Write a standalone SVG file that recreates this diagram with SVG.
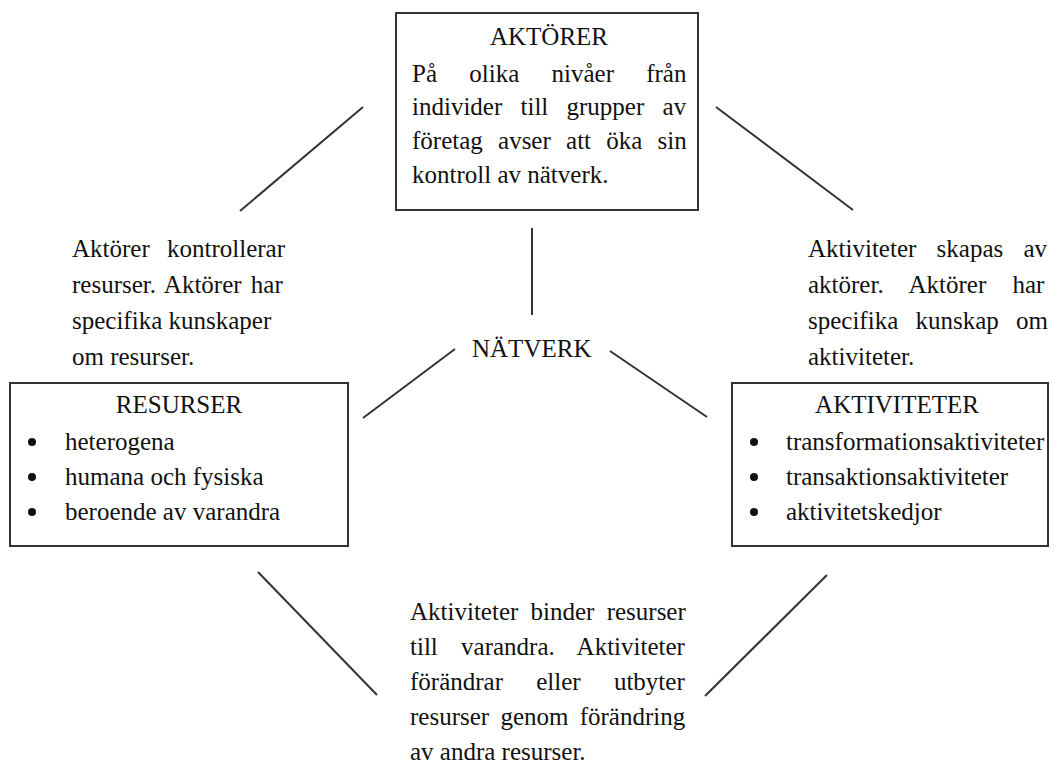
<svg xmlns="http://www.w3.org/2000/svg" width="1058" height="765" viewBox="0 0 1058 765">
<style>
text{font-family:"Liberation Serif","Times New Roman",serif;font-size:25px;fill:#111}
.box{fill:#fff;stroke:#333;stroke-width:2}
.ln{stroke:#333;stroke-width:2;fill:none}
.c{text-anchor:middle}
</style>
<rect width="1058" height="765" fill="#fff"/>
<g id="connectors">
<line class="ln" x1="363" y1="107" x2="240" y2="211"/>
<line class="ln" x1="716" y1="107" x2="853" y2="210"/>
<line class="ln" x1="532" y1="228" x2="532" y2="315"/>
<line class="ln" x1="455" y1="349" x2="363" y2="418"/>
<line class="ln" x1="610" y1="351" x2="707" y2="417"/>
<line class="ln" x1="258" y1="572" x2="377" y2="695"/>
<line class="ln" x1="827" y1="575" x2="705" y2="696"/>
</g>
<g id="aktorer">
<rect class="box" x="396" y="13" width="302" height="197"/>
<text class="c" x="549" y="45">AKTÖRER</text>
<text x="412" y="82" style="word-spacing:26px">På olika nivåer från</text>
<text x="412" y="115" style="word-spacing:12px">individer till grupper av</text>
<text x="412" y="149" style="word-spacing:9px">företag avser att öka sin</text>
<text x="412" y="183">kontroll av nätverk.</text>
</g>
<g id="natverk">
<text x="472" y="357">NÄTVERK</text>
</g>
<g id="label-left">
<text x="72" y="257" style="word-spacing:11px">Aktörer kontrollerar</text>
<text x="72" y="293" style="word-spacing:3px">resurser. Aktörer har</text>
<text x="72" y="329">specifika kunskaper</text>
<text x="72" y="365">om resurser.</text>
</g>
<g id="label-right">
<text x="808" y="257" style="word-spacing:14px">Aktiviteter skapas av</text>
<text x="808" y="293" style="word-spacing:20px">aktörer. Aktörer har</text>
<text x="808" y="329" style="word-spacing:11px">specifika kunskap om</text>
<text x="808" y="365">aktiviteter.</text>
</g>
<g id="resurser">
<rect class="box" x="10" y="383" width="338" height="163"/>
<text class="c" x="179" y="413">RESURSER</text>
<circle cx="32" cy="442" r="4" fill="#111"/>
<circle cx="32" cy="477" r="4" fill="#111"/>
<circle cx="32" cy="512" r="4" fill="#111"/>
<text x="65" y="450">heterogena</text>
<text x="65" y="485">humana och fysiska</text>
<text x="65" y="520">beroende av varandra</text>
</g>
<g id="aktiviteter">
<rect class="box" x="732" y="383" width="316" height="163"/>
<text class="c" x="897" y="413">AKTIVITETER</text>
<circle cx="754" cy="442" r="4" fill="#111"/>
<circle cx="754" cy="477" r="4" fill="#111"/>
<circle cx="754" cy="512" r="4" fill="#111"/>
<text x="786" y="450">transformationsaktiviteter</text>
<text x="786" y="485">transaktionsaktiviteter</text>
<text x="786" y="520">aktivitetskedjor</text>
</g>
<g id="label-bottom">
<text x="410" y="620" style="word-spacing:6px">Aktiviteter binder resurser</text>
<text x="410" y="655" style="word-spacing:17px">till varandra. Aktiviteter</text>
<text x="410" y="690" style="word-spacing:27px">förändrar eller utbyter</text>
<text x="410" y="725" style="word-spacing:5px">resurser genom förändring</text>
<text x="410" y="760">av andra resurser.</text>
</g>
</svg>
